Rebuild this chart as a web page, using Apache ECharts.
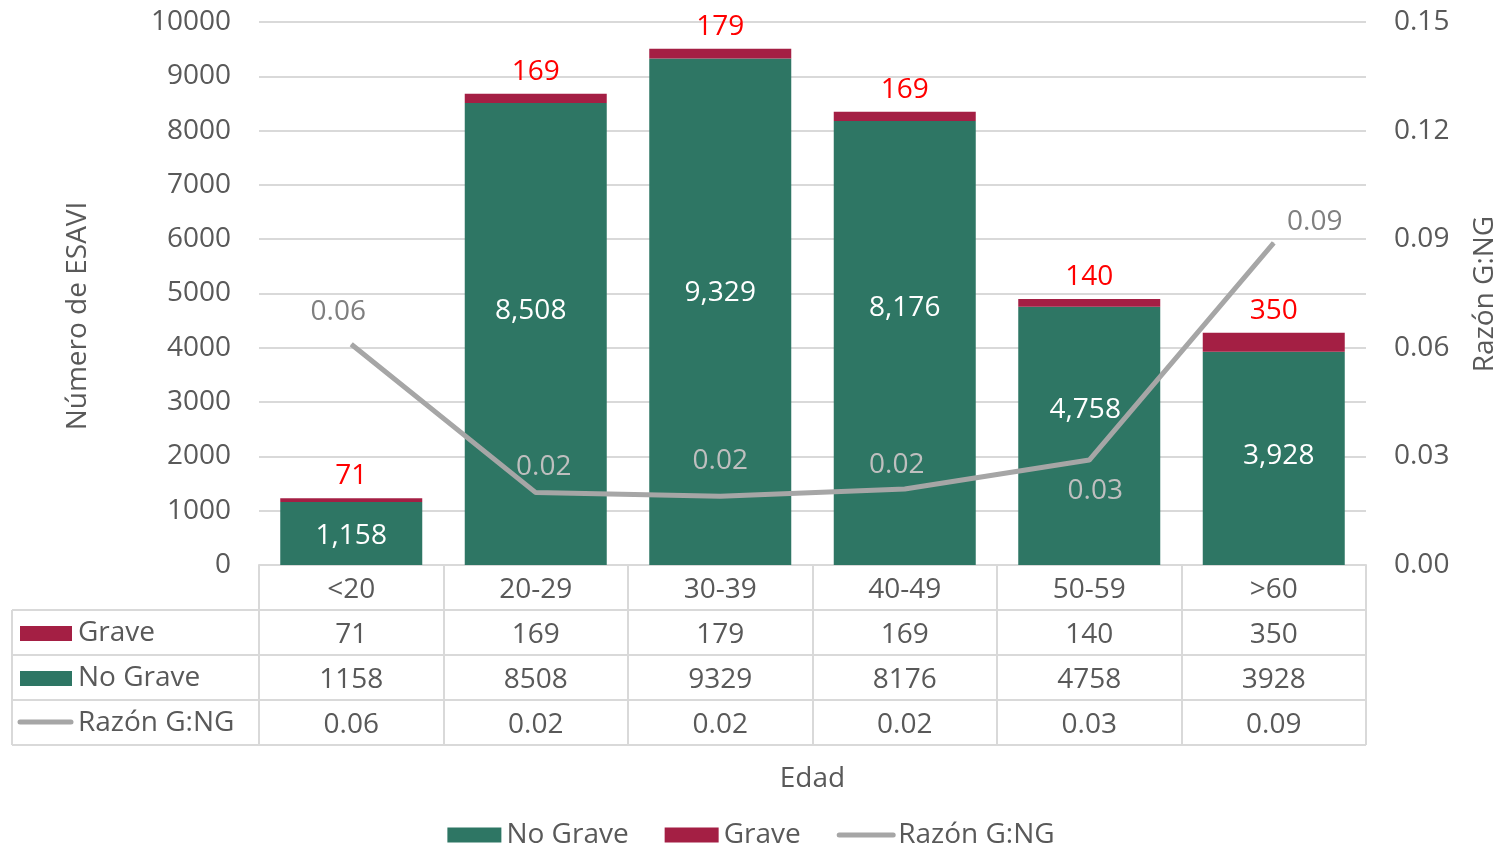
<!DOCTYPE html>
<html>
<head>
<meta charset="utf-8">
<script src="https://cdn.jsdelivr.net/npm/echarts@6/dist/echarts.min.js"></script>
<style>
  html, body { margin: 0; padding: 0; background: #fff; }
  #main { width: 1502px; height: 847px; }
</style>
</head>
<body>
<div id="main"></div>
<script>
// datos
var categorias = ['<20', '20-29', '30-39', '40-49', '50-59', '>60'];
var grave = [71, 169, 179, 169, 140, 350];
var noGrave = [1158, 8508, 9329, 8176, 4758, 3928];
var razon = [0.061, 0.020, 0.019, 0.021, 0.029, 0.089];
var ticksIzq = [0, 10000, 1000];
var ticksDer = [0, 0.15, 0.03];

// ajustes de etiquetas (solo posicion de texto)
var noGraveLabelDx = [0, -5, 0, 0, -4, 5];
var noGraveLabelDy = [2, -23, -19, -35, -26, -2];
var razonLabelDx = [-13, 8, 0, -8, 6, 41];
var razonLabelDy = [-32, -26, -35, -24, 31, -21];
var razonLabelColor = ['#7F7F7F', '#BFBFBF', '#BFBFBF', '#BFBFBF', '#BFBFBF', '#7F7F7F'];

var FONT = 'Open Sans';
var VERDE = '#2E7664';
var ROJO = '#A41F44';
var GRIS = '#A6A6A6';
var TXT = '#595959';
var LINEA = '#D9D9D9';

function miles(v) {
  return String(v).replace(/\B(?=(\d{3})+(?!\d))/g, ',');
}

var chart = echarts.init(document.getElementById('main'));

// lineas de la tabla
var tabla = [];
[610, 655, 700, 745].forEach(function (y) {
  tabla.push({ type: 'line', shape: { x1: 12, y1: y, x2: 1366, y2: y }, style: { stroke: LINEA, lineWidth: 2 } });
});
tabla.push({ type: 'line', shape: { x1: 12, y1: 610, x2: 12, y2: 745 }, style: { stroke: LINEA, lineWidth: 2 } });
// encabezados de filas
tabla.push({ type: 'rect', shape: { x: 20, y: 626, width: 52, height: 15 }, style: { fill: ROJO } });
tabla.push({ type: 'text', x: 78, y: 633, style: { text: 'Grave', font: '28px "Open Sans"', fill: TXT, textVerticalAlign: 'middle' } });
tabla.push({ type: 'rect', shape: { x: 20, y: 671, width: 52, height: 15 }, style: { fill: VERDE } });
tabla.push({ type: 'text', x: 78, y: 678, style: { text: 'No Grave', font: '28px "Open Sans"', fill: TXT, textVerticalAlign: 'middle' } });
tabla.push({ type: 'line', shape: { x1: 20, y1: 722, x2: 71, y2: 722 }, style: { stroke: GRIS, lineWidth: 5, lineCap: 'round' } });
tabla.push({ type: 'text', x: 78, y: 723, style: { text: 'Razón G:NG', font: '28px "Open Sans"', fill: TXT, textVerticalAlign: 'middle' } });
// titulos de ejes
tabla.push({ type: 'text', x: 78, y: 316, rotation: Math.PI / 2, style: { text: 'Número de ESAVI', font: '28px "Open Sans"', fill: TXT, textAlign: 'center', textVerticalAlign: 'middle' } });
tabla.push({ type: 'text', x: 1485, y: 294, rotation: Math.PI / 2, style: { text: 'Razón G:NG', font: '28px "Open Sans"', fill: TXT, textAlign: 'center', textVerticalAlign: 'middle' } });

var option = {
  animation: false,
  textStyle: { fontFamily: FONT },
  grid: { left: 259, right: 136, top: 22, bottom: 282 },
  legend: {
    top: 816,
    left: 'center',
    itemWidth: 54,
    itemHeight: 15,
    itemGap: 36,
    textStyle: { fontSize: 28, color: TXT, fontFamily: FONT },
    data: [
      { name: 'No Grave', icon: 'rect' },
      { name: 'Grave', icon: 'rect' },
      { name: 'Razón G:NG', itemStyle: { opacity: 0 }, lineStyle: { width: 5, color: GRIS, cap: 'round' } }
    ]
  },
  xAxis: {
    type: 'category',
    data: categorias,
    name: 'Edad',
    nameLocation: 'middle',
    nameGap: 200,
    nameTextStyle: { fontSize: 28, color: TXT, fontFamily: FONT },
    axisLine: { show: true, lineStyle: { color: LINEA, width: 2 } },
    axisTick: { show: true, length: 180, lineStyle: { color: LINEA, width: 2 } },
    axisLabel: {
      margin: 3,
      fontSize: 28,
      lineHeight: 45,
      color: TXT,
      fontFamily: FONT,
      formatter: function (v, i) {
        return [v, grave[i], noGrave[i], razon[i].toFixed(2)].join('\n');
      }
    }
  },
  yAxis: [
    {
      type: 'value',
      min: ticksIzq[0],
      max: ticksIzq[1],
      interval: ticksIzq[2],
      axisLine: { show: false },
      axisTick: { show: false },
      axisLabel: {
        fontSize: 28, color: TXT, fontFamily: FONT, margin: 28,
        formatter: function (v) { return String(v); }
      },
      splitLine: { lineStyle: { color: LINEA, width: 2 } }
    },
    {
      type: 'value',
      min: ticksDer[0],
      max: ticksDer[1],
      interval: ticksDer[2],
      axisLine: { show: false },
      axisTick: { show: false },
      splitLine: { show: false },
      axisLabel: {
        fontSize: 28, color: TXT, fontFamily: FONT, margin: 28,
        formatter: function (v) { return v.toFixed(2); }
      }
    }
  ],
  series: [
    {
      name: 'No Grave',
      type: 'bar',
      stack: 'total',
      barWidth: 142,
      itemStyle: { color: VERDE },
      data: noGrave.map(function (v, i) {
        return {
          value: v,
          label: { offset: [noGraveLabelDx[i], noGraveLabelDy[i]] }
        };
      }),
      label: {
        show: true,
        position: 'inside',
        color: '#fff',
        fontSize: 28,
        fontFamily: FONT,
        formatter: function (p) { return miles(p.value); }
      }
    },
    {
      name: 'Grave',
      type: 'bar',
      stack: 'total',
      barWidth: 142,
      itemStyle: { color: ROJO },
      data: grave,
      label: {
        show: true,
        position: 'top',
        distance: 8,
        color: '#FF0000',
        fontSize: 28,
        fontFamily: FONT
      }
    },
    {
      name: 'Razón G:NG',
      type: 'line',
      yAxisIndex: 1,
      symbol: 'circle',
      symbolSize: 1,
      itemStyle: { color: GRIS },
      lineStyle: { color: GRIS, width: 5 },
      data: razon.map(function (v, i) {
        return {
          value: v,
          label: { offset: [razonLabelDx[i], razonLabelDy[i]], color: razonLabelColor[i] }
        };
      }),
      label: {
        show: true,
        position: 'inside',
        fontSize: 28,
        fontFamily: FONT,
        formatter: function (p) { return p.value.toFixed(2); }
      },
      z: 5
    }
  ],
  graphic: tabla
};

chart.setOption(option);
</script>
</body>
</html>
